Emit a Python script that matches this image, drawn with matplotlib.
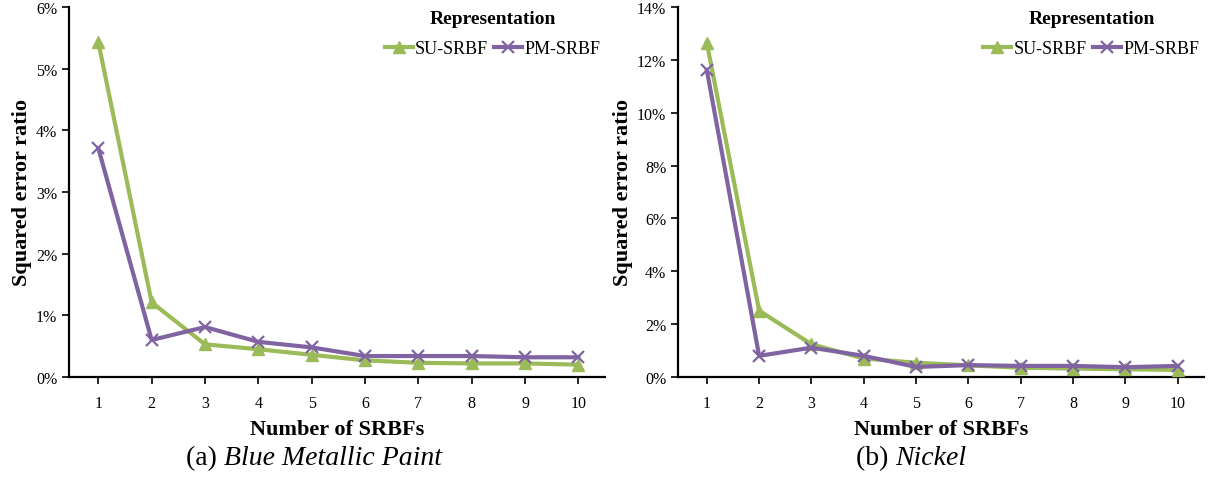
import matplotlib.pyplot as plt
from matplotlib.ticker import FuncFormatter

plt.rcParams["font.family"] = ["Liberation Serif", "DejaVu Serif"]

# ── Data ─────────────────────────────────────────────────
n_srbfs = [1, 2, 3, 4, 5, 6, 7, 8, 9, 10]

paint_su = [5.43, 1.21, 0.53, 0.45, 0.36, 0.27, 0.23, 0.22, 0.22, 0.20]
paint_pm = [3.71, 0.60, 0.81, 0.57, 0.48, 0.34, 0.34, 0.34, 0.32, 0.32]

nickel_su = [12.65, 2.51, 1.24, 0.70, 0.54, 0.44, 0.35, 0.32, 0.29, 0.27]
nickel_pm = [11.62, 0.80, 1.11, 0.80, 0.38, 0.45, 0.42, 0.42, 0.37, 0.42]

C_SU = "#9BBB59"
C_PM = "#8064A2"

fig = plt.figure(figsize=(12.19, 4.81), dpi=100)
fig.patch.set_facecolor("white")

ax1 = fig.add_axes([69 / 1219, 1 - 378 / 481, 536 / 1219, 370 / 481])
ax2 = fig.add_axes([678 / 1219, 1 - 378 / 481, 526 / 1219, 370 / 481])


def panel(ax, su, pm, ymax, ystep):
    ax.plot(n_srbfs, su, color=C_SU, lw=3, marker="^", ms=9,
            mec=C_SU, mfc=C_SU, label="SU-SRBF", zorder=3)
    ax.plot(n_srbfs, pm, color=C_PM, lw=3, marker="x", ms=9,
            mew=1.6, mec=C_PM, label="PM-SRBF", zorder=4)
    ax.set_xlim(0.45, 10.5)
    ax.set_ylim(0, ymax)
    ax.set_xticks(n_srbfs)
    ax.set_yticks([i * ystep for i in range(int(ymax / ystep) + 1)])
    ax.yaxis.set_major_formatter(FuncFormatter(lambda v, p: f"{v:.0f}%"))
    for s in ["top", "right"]:
        ax.spines[s].set_visible(False)
    for s in ["left", "bottom"]:
        ax.spines[s].set_linewidth(1.6)
        ax.spines[s].set_color("black")
    ax.tick_params(axis="both", direction="out", length=5, width=1.2,
                   labelsize=11.5)
    ax.tick_params(axis="x", pad=8)
    ax.set_xlabel("Number of SRBFs", fontsize=16, fontweight="bold",
                  labelpad=6)
    ax.set_ylabel("Squared error ratio", fontsize=16, fontweight="bold",
                  labelpad=3)
    ax.legend(loc="upper right", bbox_to_anchor=(1.005, 1.012), ncol=2,
              frameon=False, fontsize=13, title="Representation",
              title_fontproperties={"weight": "bold", "size": 14},
              handlelength=1.55, handletextpad=0.15, columnspacing=0.3,
              labelspacing=0.75, borderaxespad=0.0)


panel(ax1, paint_su, paint_pm, 6, 1)
panel(ax2, nickel_su, nickel_pm, 14, 2)

# captions
cy = 1 - 459 / 481
fig.text(224 / 1219, cy, "(a) ", fontsize=20, ha="right", va="center")
fig.text(224 / 1219, cy, "Blue Metallic Paint", fontsize=20,
         style="italic", ha="left", va="center")
fig.text(895 / 1219, cy, "(b) ", fontsize=20, ha="right", va="center")
fig.text(895 / 1219, cy, "Nickel", fontsize=20,
         style="italic", ha="left", va="center")

fig.savefig("out.png", dpi=100, facecolor="white")
